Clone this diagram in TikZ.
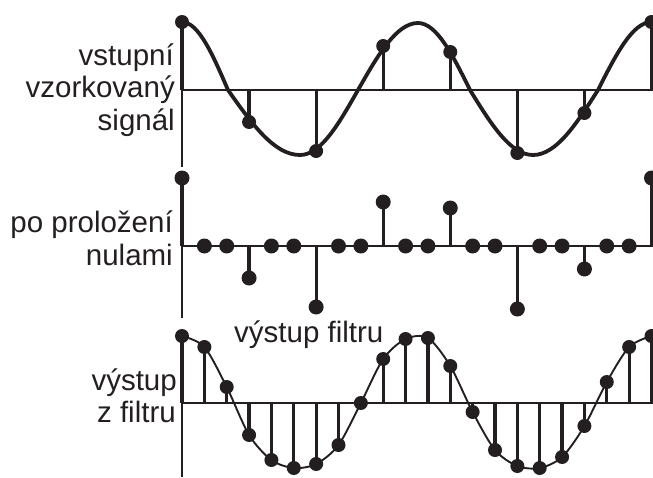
\documentclass[tikz,border=0pt]{standalone}
\usepackage{fontspec}
\setmainfont{Liberation Sans}
\definecolor{ink}{RGB}{35,31,32}
\tikzset{
  axisline/.style={draw=ink, line width=1.9pt},
  stemline/.style={draw=ink, line width=3.2pt},
  sigcurve/.style={draw=ink, line width=3.8pt},
  fltcurve/.style={draw=ink, line width=1.9pt},
  dotmark/.style={circle, fill=ink, inner sep=0pt, minimum size=14pt},
  dotbig/.style={circle, fill=ink, inner sep=0pt, minimum size=15pt},
  lbl/.style={font=\fontsize{29.5pt}{32pt}\selectfont, text=ink, inner sep=0pt, anchor=base east},
}
\begin{document}
\begin{tikzpicture}[x=1pt,y=-1pt]
\useasboundingbox (0,0) rectangle (653,477);
\clip (0,0) rectangle (653,477);

% ---------- top panel ----------
\coordinate (ta0) at (182,20);
\coordinate (ta1) at (182,167);
\coordinate (th0) at (182,90);
\coordinate (th1) at (653,90);
\draw[axisline] (ta0) -- (ta1);
\draw[axisline] (th0) -- (th1);
\foreach \n/\v in {0/68,1/-32,2/-61,3/44,4/38,5/-63,6/-23,7/68} {
  \coordinate (tb\n) at ({182+67.07*\n},90);
  \node[dotmark] (t\n) at ({182+67.07*\n},{90-\v}) {};
  \draw[stemline] (tb\n) -- (t\n.center);
}
\coordinate (z1) at (228,90);
\coordinate (m1) at (300,155);
\coordinate (z2) at (358,90);
\coordinate (p1) at (418,23);
\coordinate (z3) at (470,90);
\coordinate (m2) at (533,155);
\coordinate (z4) at (598,90);
\draw[sigcurve] (t0.center)
  .. controls (198.6,22) and (213.0,55.2) .. (z1)
  .. controls (251.5,123.3) and (273.9,155) .. (m1)
  .. controls (321.0,155) and (339.1,123.3) .. (z2)
  .. controls (377.6,55.7) and (396.3,23) .. (p1)
  .. controls (436.8,23) and (453.0,55.7) .. (z3)
  .. controls (490.5,123.3) and (510.2,155) .. (m2)
  .. controls (556.5,155) and (576.8,123.3) .. (z4)
  .. controls (615.6,55.2) and (632.5,22) .. (t7.center);

\node[lbl] (l1) at (174,65) {vstupní};
\node[lbl] (l2) at (175,97) {vzorkovaný};
\node[lbl] (l3) at (175,130) {signál};

% ---------- middle panel ----------
\coordinate (ma0) at (182,178);
\coordinate (ma1) at (182,318);
\coordinate (mh0) at (182,246);
\coordinate (mh1) at (653,246);
\draw[axisline] (ma0) -- (ma1);
\draw[axisline] (mh0) -- (mh1);
\foreach \k/\v in {0/68,3/-32,6/-61,9/44,12/38,15/-63,18/-23,21/68} {
  \coordinate (mb\k) at ({182+22.357*\k},246);
  \node[dotbig] (mz\k) at ({182+22.357*\k},{246-\v}) {};
  \draw[stemline] (mb\k) -- (mz\k.center);
}
\foreach \k in {1,2,4,5,7,8,10,11,13,14,16,17,19,20} {
  \node[dotbig] (mz\k) at ({182+22.357*\k},246) {};
}
\node[lbl] (l4) at (173,232) {po proložení};
\node[lbl] (l5) at (173,265) {nulami};

% ---------- bottom panel ----------
\coordinate (ba0) at (182,335);
\coordinate (ba1) at (182,477);
\coordinate (bh0) at (182,403);
\coordinate (bh1) at (653,403);
\draw[axisline] (ba0) -- (ba1);
\draw[axisline] (bh0) -- (bh1);
\foreach \k/\v in {0/67,1/56,2/16,3/-32,4/-57,5/-65,6/-61,7/-42,8/0,9/44,10/64,11/65,12/37,13/-9,14/-47,15/-63,16/-65,17/-54,18/-23,19/21,20/56,21/67} {
  \coordinate (bb\k) at ({182+22.357*\k},403);
  \node[dotmark] (b\k) at ({182+22.357*\k},{403-\v}) {};
  \draw[stemline] (bb\k) -- (b\k.center);
}
\draw[fltcurve] plot[smooth, tension=0.5] coordinates {
  (b0.center) (b1.center) (b2.center) (b3.center) (b4.center) (b5.center)
  (b6.center) (b7.center) (b8.center) (b9.center) (b10.center) (b11.center)
  (b12.center) (b13.center) (b14.center) (b15.center) (b16.center) (b17.center)
  (b18.center) (b19.center) (b20.center) (b21.center)};

\node[lbl] (l6) at (177,390) {výstup};
\node[lbl] (l7) at (176,422) {z filtru};
\node[lbl, anchor=base west] (l8) at (234,342) {výstup filtru};
\end{tikzpicture}
\end{document}
